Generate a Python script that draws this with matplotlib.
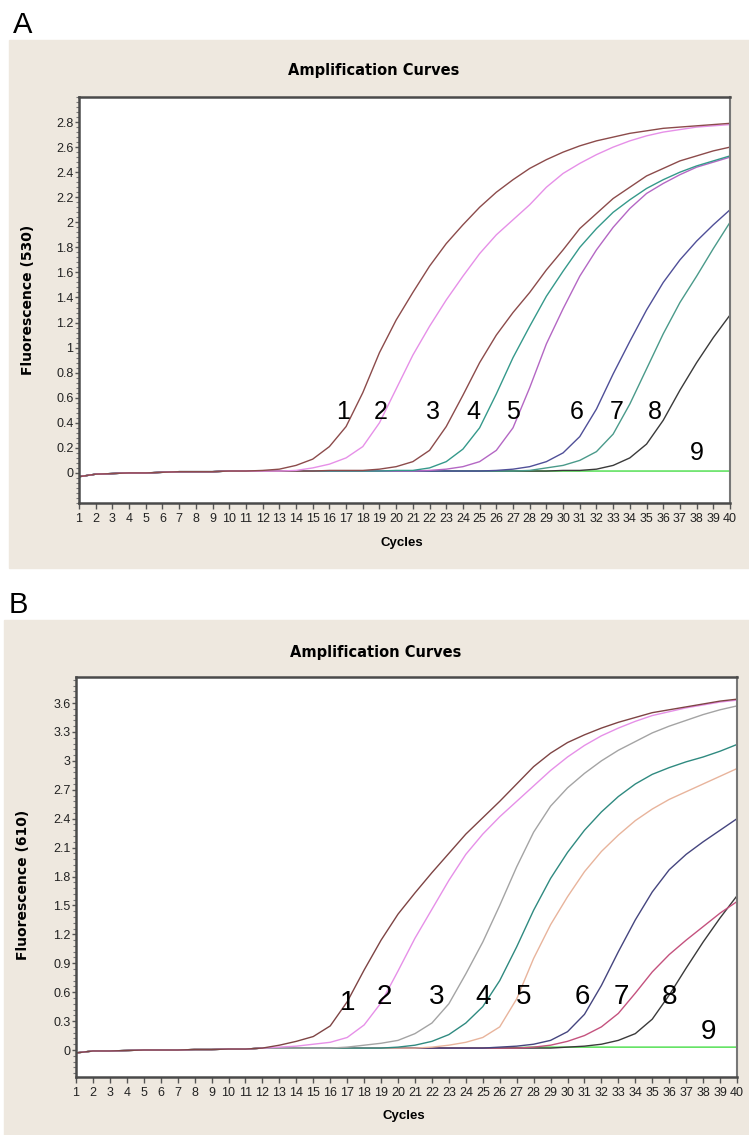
import matplotlib
matplotlib.use("Agg")
import matplotlib.pyplot as plt
from matplotlib.patches import Rectangle
from matplotlib.ticker import MultipleLocator

cycles = list(range(1, 41))

# panel A, channel 530 - fluorescence per cycle, curves 1..9
a1 = [-0.03, -0.01, -0.005, 0.0, 0.0, 0.005, 0.01, 0.01, 0.01, 0.015, 0.015, 0.02,
      0.03, 0.06, 0.11, 0.21, 0.37, 0.64, 0.96, 1.22,
      1.44, 1.65, 1.83, 1.98, 2.12, 2.24, 2.34, 2.43, 2.50, 2.56,
      2.61, 2.65, 2.68, 2.71, 2.73, 2.75, 2.76, 2.77, 2.78, 2.79]
a2 = [-0.03, -0.01, -0.005, 0.0, 0.0, 0.005, 0.01, 0.01, 0.01, 0.015, 0.015, 0.015,
      0.015, 0.02, 0.04, 0.07, 0.12, 0.21, 0.40, 0.67,
      0.94, 1.17, 1.38, 1.57, 1.75, 1.90, 2.02, 2.14, 2.28, 2.39,
      2.47, 2.54, 2.60, 2.65, 2.69, 2.72, 2.74, 2.76, 2.77, 2.78]
a3 = [-0.03, -0.01, -0.005, 0.0, 0.0, 0.005, 0.01, 0.01, 0.01, 0.015, 0.015, 0.015,
      0.015, 0.015, 0.015, 0.02, 0.02, 0.02, 0.03, 0.05,
      0.09, 0.18, 0.37, 0.62, 0.88, 1.10, 1.28, 1.44, 1.62, 1.78,
      1.95, 2.07, 2.19, 2.28, 2.37, 2.43, 2.49, 2.53, 2.57, 2.60]
a4 = [-0.03, -0.01, -0.005, 0.0, 0.0, 0.005, 0.01, 0.01, 0.01, 0.015, 0.015, 0.015,
      0.015, 0.015, 0.015, 0.015, 0.015, 0.015, 0.015, 0.02,
      0.02, 0.04, 0.09, 0.19, 0.36, 0.63, 0.92, 1.17, 1.41, 1.61,
      1.80, 1.95, 2.08, 2.18, 2.27, 2.34, 2.40, 2.45, 2.49, 2.53]
a5 = [-0.03, -0.01, -0.005, 0.0, 0.0, 0.005, 0.01, 0.01, 0.01, 0.015, 0.015, 0.015,
      0.015, 0.015, 0.015, 0.015, 0.015, 0.015, 0.015, 0.015,
      0.015, 0.02, 0.03, 0.05, 0.09, 0.18, 0.36, 0.68, 1.03, 1.31,
      1.57, 1.78, 1.96, 2.11, 2.23, 2.31, 2.38, 2.44, 2.48, 2.52]
a6 = [-0.03, -0.01, -0.005, 0.0, 0.0, 0.005, 0.01, 0.01, 0.01, 0.015, 0.015, 0.015,
      0.015, 0.015, 0.015, 0.015, 0.015, 0.015, 0.015, 0.015,
      0.015, 0.015, 0.015, 0.015, 0.015, 0.02, 0.03, 0.05, 0.09, 0.16,
      0.29, 0.51, 0.79, 1.05, 1.30, 1.52, 1.70, 1.85, 1.98, 2.10]
a7 = [-0.03, -0.01, -0.005, 0.0, 0.0, 0.005, 0.01, 0.01, 0.01, 0.015, 0.015, 0.015,
      0.015, 0.015, 0.015, 0.015, 0.015, 0.015, 0.015, 0.015,
      0.015, 0.015, 0.015, 0.015, 0.015, 0.015, 0.015, 0.02, 0.04, 0.06,
      0.10, 0.17, 0.31, 0.55, 0.83, 1.11, 1.36, 1.57, 1.79, 2.00]
a8 = [-0.03, -0.01, -0.005, 0.0, 0.0, 0.005, 0.01, 0.01, 0.01, 0.015, 0.015, 0.015,
      0.015, 0.015, 0.015, 0.015, 0.015, 0.015, 0.015, 0.015,
      0.015, 0.015, 0.015, 0.015, 0.015, 0.015, 0.015, 0.015, 0.015, 0.02,
      0.02, 0.03, 0.06, 0.12, 0.23, 0.42, 0.66, 0.88, 1.08, 1.26]
a9 = [-0.03, -0.01, -0.005, 0.0, 0.0, 0.005, 0.01, 0.01, 0.01, 0.015, 0.015, 0.015,
      0.015, 0.015, 0.015, 0.015, 0.015, 0.015, 0.015, 0.015,
      0.015, 0.015, 0.015, 0.015, 0.015, 0.015, 0.015, 0.015, 0.015, 0.015,
      0.015, 0.015, 0.015, 0.015, 0.015, 0.015, 0.015, 0.015, 0.015, 0.015]

# panel B, channel 610
b1 = [-0.03, -0.01, -0.01, -0.005, 0.0, 0.0, 0.0, 0.005, 0.005, 0.01, 0.01, 0.02,
      0.05, 0.09, 0.14, 0.25, 0.50, 0.83, 1.14, 1.41,
      1.63, 1.84, 2.04, 2.24, 2.41, 2.58, 2.76, 2.94, 3.08, 3.19,
      3.27, 3.34, 3.40, 3.45, 3.50, 3.53, 3.56, 3.59, 3.62, 3.64]
b2 = [-0.03, -0.01, -0.01, -0.005, 0.0, 0.0, 0.0, 0.005, 0.005, 0.01, 0.01, 0.02,
      0.03, 0.04, 0.06, 0.08, 0.13, 0.26, 0.49, 0.82,
      1.16, 1.46, 1.76, 2.03, 2.24, 2.42, 2.58, 2.74, 2.90, 3.04,
      3.16, 3.26, 3.34, 3.41, 3.47, 3.51, 3.55, 3.58, 3.61, 3.63]
b3 = [-0.03, -0.01, -0.01, -0.005, 0.0, 0.0, 0.0, 0.005, 0.005, 0.01, 0.01, 0.02,
      0.02, 0.02, 0.02, 0.02, 0.03, 0.05, 0.07, 0.10,
      0.17, 0.28, 0.48, 0.79, 1.12, 1.50, 1.90, 2.26, 2.53, 2.72,
      2.87, 3.00, 3.11, 3.20, 3.29, 3.36, 3.42, 3.48, 3.53, 3.57]
b4 = [-0.03, -0.01, -0.01, -0.005, 0.0, 0.0, 0.0, 0.005, 0.005, 0.01, 0.01, 0.02,
      0.02, 0.02, 0.02, 0.02, 0.02, 0.02, 0.02, 0.03,
      0.05, 0.09, 0.16, 0.28, 0.45, 0.72, 1.07, 1.45, 1.78, 2.05,
      2.28, 2.47, 2.63, 2.76, 2.86, 2.93, 2.99, 3.04, 3.10, 3.17]
b5 = [-0.03, -0.01, -0.01, -0.005, 0.0, 0.0, 0.0, 0.005, 0.005, 0.01, 0.01, 0.02,
      0.02, 0.02, 0.02, 0.02, 0.02, 0.02, 0.02, 0.02,
      0.02, 0.03, 0.05, 0.08, 0.13, 0.24, 0.53, 0.95, 1.30, 1.59,
      1.85, 2.06, 2.23, 2.38, 2.50, 2.60, 2.68, 2.76, 2.84, 2.92]
b6 = [-0.03, -0.01, -0.01, -0.005, 0.0, 0.0, 0.0, 0.005, 0.005, 0.01, 0.01, 0.02,
      0.02, 0.02, 0.02, 0.02, 0.02, 0.02, 0.02, 0.02,
      0.02, 0.02, 0.02, 0.02, 0.02, 0.03, 0.04, 0.06, 0.10, 0.19,
      0.37, 0.67, 1.02, 1.35, 1.64, 1.87, 2.03, 2.16, 2.28, 2.40]
b7 = [-0.03, -0.01, -0.01, -0.005, 0.0, 0.0, 0.0, 0.005, 0.005, 0.01, 0.01, 0.02,
      0.02, 0.02, 0.02, 0.02, 0.02, 0.02, 0.02, 0.02,
      0.02, 0.02, 0.02, 0.02, 0.02, 0.02, 0.02, 0.03, 0.05, 0.09,
      0.15, 0.24, 0.38, 0.59, 0.81, 0.99, 1.14, 1.28, 1.42, 1.54]
b8 = [-0.03, -0.01, -0.01, -0.005, 0.0, 0.0, 0.0, 0.005, 0.005, 0.01, 0.01, 0.02,
      0.02, 0.02, 0.02, 0.02, 0.02, 0.02, 0.02, 0.02,
      0.02, 0.02, 0.02, 0.02, 0.02, 0.02, 0.02, 0.02, 0.02, 0.03,
      0.04, 0.06, 0.10, 0.17, 0.32, 0.57, 0.85, 1.12, 1.37, 1.60]
b9 = [-0.03, -0.01, -0.01, -0.005, 0.0, 0.0, 0.0, 0.005, 0.005, 0.01, 0.01, 0.02,
      0.02, 0.02, 0.02, 0.02, 0.02, 0.02, 0.02, 0.02,
      0.02, 0.02, 0.02, 0.02, 0.02, 0.02, 0.025, 0.03, 0.03, 0.03,
      0.03, 0.03, 0.03, 0.03, 0.03, 0.03, 0.03, 0.03, 0.03, 0.03]

colors_a = ["#8c4b4b", "#e690e8", "#8c4b4b", "#35998b", "#b467c4",
            "#4f4f98", "#4a9a8a", "#3a3a3a", "#44dd44"]
colors_b = ["#7e4444", "#e690e8", "#a4a4a4", "#2f8a80", "#e8b49c",
            "#45457f", "#c4527e", "#3a3a3a", "#44dd44"]

labels = ["1", "2", "3", "4", "5", "6", "7", "8", "9"]
label_x_a = [16.8, 19.1, 22.2, 24.6, 27.0, 30.8, 33.2, 35.5, 38.0]
label_y_a = [0.49, 0.49, 0.49, 0.49, 0.49, 0.49, 0.49, 0.49, 0.16]
label_x_b = [17.0, 19.2, 22.3, 25.0, 27.4, 30.9, 33.2, 36.0, 38.3]
label_y_b = [0.49, 0.55, 0.55, 0.55, 0.55, 0.55, 0.55, 0.55, 0.19]

yticks_a = [round(i * 0.2, 1) for i in range(15)]
yticks_b = [round(i * 0.3, 1) for i in range(13)]

BEIGE = "#eee8df"
W, H = 749, 1135

fig = plt.figure(figsize=(W / 100, H / 100), dpi=100)
fig.patch.set_facecolor("white")

# beige panels behind each chart
fig.patches.append(Rectangle((9 / W, 1 - 568 / H), 740 / W, 528 / H,
                             transform=fig.transFigure, color=BEIGE, zorder=-5))
fig.patches.append(Rectangle((4 / W, 0), 745 / W, 1 - 620 / H,
                             transform=fig.transFigure, color=BEIGE, zorder=-5))

tick_font = ["Liberation Sans Narrow", "Liberation Sans"]


def draw_panel(rect, curves, colors, lab_x, lab_y, yticks, ylim, yminor, digit_size):
    ax = fig.add_axes(rect)
    ax.set_zorder(2)
    ax.set_facecolor("white")
    # last sample drawn first so the early curves sit on top along the baseline
    for vals, col in reversed(list(zip(curves, colors))):
        ax.plot(cycles, vals, color=col, lw=1.0, solid_joinstyle="round")
    for t, x, y in zip(labels, lab_x, lab_y):
        ax.text(x, y, t, fontsize=digit_size, family="Liberation Sans",
                ha="center", va="center", color="black")
    ax.set_xlim(1, 40)
    ax.set_ylim(*ylim)
    ax.set_xticks(cycles)
    ax.set_xticklabels([str(c) for c in cycles], family=tick_font,
                       fontsize=9, color="#222222")
    ax.set_yticks(yticks)
    ax.set_yticklabels([f"{t:g}" for t in yticks], family=tick_font,
                       fontsize=9, color="#222222")
    ax.yaxis.set_minor_locator(MultipleLocator(yminor))
    ax.tick_params(axis="x", direction="out", length=4, width=1, pad=3,
                   color="#555555")
    ax.tick_params(axis="y", which="major", direction="out", length=3,
                   width=1, pad=1, color="#555555")
    ax.tick_params(axis="y", which="minor", direction="out", length=2,
                   width=0.8, color="#777777")
    for s in ["left", "bottom", "top"]:
        ax.spines[s].set_linewidth(1.8)
        ax.spines[s].set_color("#4a4a4a")
    ax.spines["right"].set_linewidth(1.5)
    ax.spines["right"].set_color("#777777")
    return ax


draw_panel([79 / W, 1 - 503 / H, 651 / W, 406 / H],
           [a1, a2, a3, a4, a5, a6, a7, a8, a9], colors_a,
           label_x_a, label_y_a, yticks_a, (-0.24, 3.0), 0.04, 18)
draw_panel([76 / W, 1 - 1077 / H, 661 / W, 400 / H],
           [b1, b2, b3, b4, b5, b6, b7, b8, b9], colors_b,
           label_x_b, label_y_b, yticks_b, (-0.28, 3.87), 0.06, 20)

# panel letters
fig.text(23 / W, 1 - 25 / H, "A", fontsize=21, family="Liberation Sans",
         ha="center", va="center")
fig.text(18 / W, 1 - 605 / H, "B", fontsize=21, family="Liberation Sans",
         ha="center", va="center")

# titles
fig.text(374 / W, 1 - 71 / H, "Amplification Curves", fontsize=10.5,
         fontweight="heavy", ha="center", va="center")
fig.text(376 / W, 1 - 652 / H, "Amplification Curves", fontsize=10.5,
         fontweight="heavy", ha="center", va="center")

# axis labels
fig.text(28 / W, 1 - 300 / H, "Fluorescence (530)", fontsize=10,
         fontweight="bold", rotation=90, ha="center", va="center")
fig.text(23 / W, 1 - 885 / H, "Fluorescence (610)", fontsize=10,
         fontweight="bold", rotation=90, ha="center", va="center")
fig.text(402 / W, 1 - 543 / H, "Cycles", fontsize=9.5, fontweight="bold",
         family=tick_font, ha="center", va="center")
fig.text(404 / W, 1 - 1116 / H, "Cycles", fontsize=9.5, fontweight="bold",
         family=tick_font, ha="center", va="center")

fig.savefig("out.png", dpi=100, facecolor=fig.get_facecolor())
